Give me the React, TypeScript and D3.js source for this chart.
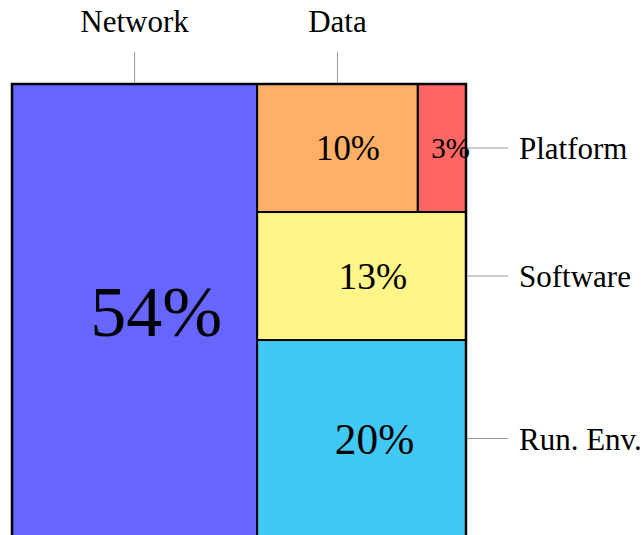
import React from "react";
import * as d3 from "d3";

const names = ["Network", "Data", "Platform", "Software", "Run. Env."];
const shares = [54, 10, 3, 13, 20];
const fills = ["#6666FF", "#FFB066", "#FF6666", "#FFF588", "#42C8F4"];
const labelSide = ["top", "top", "right", "right", "right"];

const W = 643;
const H = 535;
const box = { x: 12, y: 84, w: 454, h: 453 };

function buildTree() {
  const leaf = (i: number) => ({ name: names[i], value: shares[i], idx: i });
  return {
    name: "root",
    children: [
      leaf(0),
      {
        name: "rest",
        children: [
          { name: "dataRow", children: [leaf(1), leaf(2)] },
          leaf(3),
          leaf(4),
        ],
      },
    ],
  };
}

export default function App() {
  const root = d3
    .hierarchy<any>(buildTree())
    .sum((d: any) => (d.children ? 0 : d.value));
  d3.treemap<any>().tile(d3.treemapSliceDice).size([box.w, box.h]).paddingInner(0)(root);
  const leaves = root.leaves() as any[];
  const fontScale = d3.scaleLinear().domain([3, 54]).range([29, 72]);
  const font = "'Liberation Serif', 'Times New Roman', serif";

  return (
    <svg
      width={W}
      height={H}
      style={{ position: "fixed", left: 0, top: 0, background: "#fff" }}
    >
      <g transform={`translate(${box.x},${box.y})`}>
        {leaves.map((n: any) => (
          <rect
            key={n.data.name}
            x={n.x0}
            y={n.y0}
            width={n.x1 - n.x0}
            height={n.y1 - n.y0}
            fill={fills[n.data.idx]}
            stroke="#000"
            strokeWidth={2}
          />
        ))}
        <rect x={0} y={0} width={box.w} height={box.h} fill="none" stroke="#000" strokeWidth={2.5} />
        {leaves.map((n: any) => {
          const cx = (n.x0 + n.x1) / 2;
          const cy = (n.y0 + n.y1) / 2;
          const fs = fontScale(n.data.value);
          return (
            <text
              key={"p" + n.data.name}
              x={cx + 0.3 * fs}
              y={cy + 0.35 * fs}
              textAnchor="middle"
              fontFamily={font}
              fontSize={fs}
              fill="#000"
            >
              {n.data.value + "%"}
            </text>
          );
        })}
        {leaves.map((n: any) => {
          const cx = (n.x0 + n.x1) / 2;
          const cy = (n.y0 + n.y1) / 2;
          const side = labelSide[n.data.idx];
          if (side === "top") {
            return (
              <g key={"l" + n.data.name}>
                <line x1={cx} x2={cx} y1={-32} y2={n.y0 - 1} stroke="#999" strokeWidth={1} />
                <text x={cx} y={-52} textAnchor="middle" fontFamily={font} fontSize={31} fill="#000">
                  {n.data.name}
                </text>
              </g>
            );
          }
          return (
            <g key={"l" + n.data.name}>
              <line x1={box.w + 1} x2={box.w + 42} y1={cy} y2={cy} stroke="#999" strokeWidth={1} />
              <text x={box.w + 53} y={cy + 11} fontFamily={font} fontSize={31} fill="#000">
                {n.data.name}
              </text>
            </g>
          );
        })}
      </g>
    </svg>
  );
}
